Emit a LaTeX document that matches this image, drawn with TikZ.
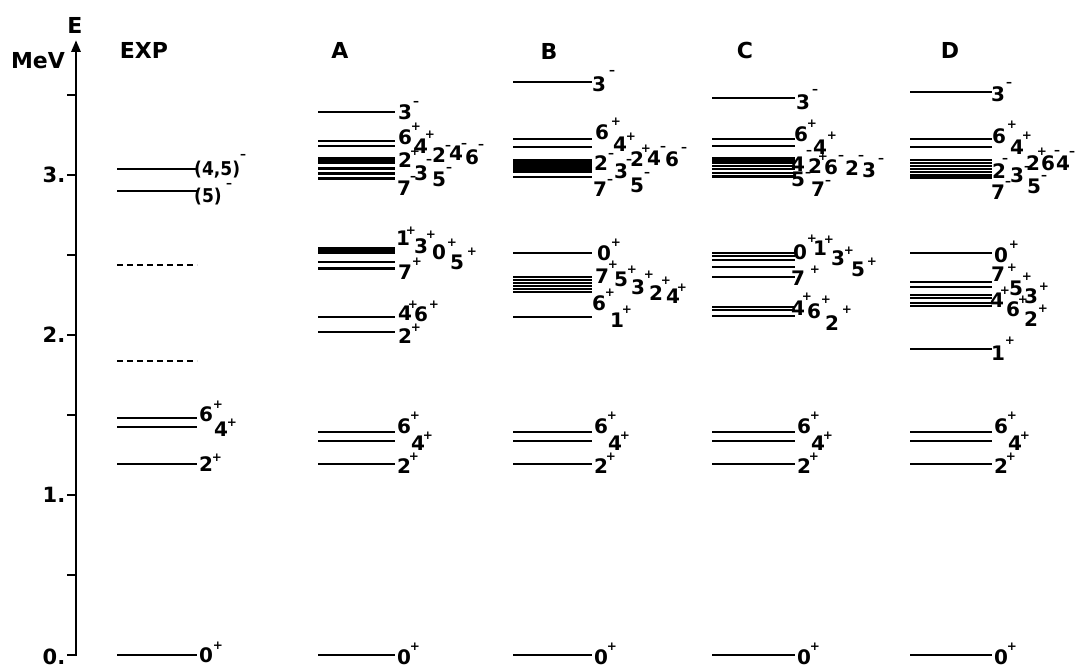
\documentclass[tikz,border=0pt]{standalone}
\usepackage{fontspec}
\setmainfont{DejaVu Sans}
\newfontfamily\condf{DejaVu Sans Condensed}
\usetikzlibrary{arrows.meta}
\newcommand\jlab[7]{\node[dig] (#1) at (#2,#3) {#4}; \node[sgn] (#1s) at (#5,#6) {#7};}
\begin{document}
\begin{tikzpicture}[x=1pt,y=-1pt,
  lev/.style={line width=2.9pt},
  dlev/.style={line width=2.9pt, dash pattern=on 6pt off 4pt},
  dig/.style={font=\fontsize{20}{20}\selectfont\bfseries, inner sep=0pt},
  pdig/.style={font=\condf\fontsize{19}{19}\selectfont\bfseries, inner sep=0pt, anchor=west},
  sgn/.style={font=\fontsize{12}{12}\selectfont\bfseries, inner sep=0pt},
  head/.style={font=\fontsize{22}{22}\selectfont\bfseries, inner sep=0pt},
  tick/.style={font=\fontsize{21}{21}\selectfont\bfseries, inner sep=0pt},
  axis/.style={line width=2.9pt}]
\useasboundingbox (0,0) rectangle (1077,668);
% axis
\coordinate (ax0) at (76,656);
\coordinate (axtop) at (76,40);
\draw[axis,-{Triangle[length=12pt,width=9pt]}] (ax0) -- (axtop);
\foreach \yy in {655,575,495,415,335,255,175,95} \draw[axis] (67,\yy) -- (76,\yy);
\node[head] (E) at (75,25) {E};
\node[head] (mev) at (38,61) {MeV};
\node[tick] (t3) at (54,175) {3.};
\node[tick] (t2) at (54,335) {2.};
\node[tick] (t1) at (54,495) {1.};
\node[tick] (t0) at (54,657) {0.};
% headings
\node[head] (hexp) at (144,50) {EXP};
\node[head] (ha) at (340,50) {A};
\node[head] (hb) at (549,51) {B};
\node[head] (hc) at (745,50) {C};
\node[head] (hd) at (950,50) {D};
% EXP levels
\foreach \y in {169,191,418,427,464,655} \draw[lev] (117,\y) -- (197,\y);
\foreach \y in {265,361} \draw[dlev] (117,\y) -- (197,\y);
\node[pdig] (e45) at (194,170) {(4,5)}; \node[sgn] (e45s) at (243,156) {–};
\node[pdig] (e5) at (194,197) {(5)}; \node[sgn] (e5s) at (229,185) {–};
\jlab{e6}{206}{414}{6}{218}{405}{+}
\jlab{e4}{221}{429}{4}{232}{423}{+}
\jlab{e2}{206}{464}{2}{217}{458}{+}
\jlab{e0}{206}{655}{0}{218}{646}{+}
% A levels
\foreach \y in {112,141,146,158,160.5,163,168.5,173.5,178.5,248,250.5,253,262,268.5,317,332,432,441,464,655}
  \draw[lev] (318,\y) -- (395,\y);
\jlab{a3m}{405}{112}{3}{416}{103}{–}
\jlab{a6p}{405}{137}{6}{416}{127}{+}
\jlab{a4p}{421}{146}{4}{430}{135}{+}
\jlab{a2p}{405}{160}{2}{415}{152}{+}
\jlab{a3n}{421}{173}{3}{429}{161}{–}
\jlab{a2m}{439}{155}{2}{448}{147}{–}
\jlab{a4m}{456}{153}{4}{464}{145}{–}
\jlab{a6m}{472}{157}{6}{481}{146}{–}
\jlab{a5m}{439}{179}{5}{449}{169}{–}
\jlab{a7m}{404}{188}{7}{413}{178}{–}
\jlab{a1p}{403}{238}{1}{411}{231}{+}
\jlab{a3p}{421}{246}{3}{431}{235}{+}
\jlab{a0p}{439}{252}{0}{452}{243}{+}
\jlab{a5p}{457}{262}{5}{472}{252}{+}
\jlab{a7p}{405}{272}{7}{417}{262}{+}
\jlab{a4q}{405}{313}{4}{413}{305}{+}
\jlab{a6q}{421}{314}{6}{434}{305}{+}
\jlab{a2q}{405}{336}{2}{416}{328}{+}
\jlab{a6l}{404}{426}{6}{415}{416}{+}
\jlab{a4l}{418}{443}{4}{428}{436}{+}
\jlab{a2l}{404}{466}{2}{414}{457}{+}
\jlab{a0l}{404}{657}{0}{415}{647}{+}
% B levels
\foreach \y in {82,139,147,160,162.5,165,167.5,170,172,177,253,277,280,283,286,289,292,317,432,441,464,655}
  \draw[lev] (513,\y) -- (592,\y);
\jlab{b3m}{599}{84}{3}{612}{72}{–}
\jlab{b6p}{602}{132}{6}{616}{122}{+}
\jlab{b4p}{620}{144}{4}{631}{137}{+}
\jlab{b2m}{601}{163}{2}{611}{155}{–}
\jlab{b3n}{621}{171}{3}{629}{161}{–}
\jlab{b2p}{637}{159}{2}{646}{149}{+}
\jlab{b4m}{654}{158}{4}{663}{148}{–}
\jlab{b6m}{672}{159}{6}{684}{149}{–}
\jlab{b5m}{637}{185}{5}{647}{174}{–}
\jlab{b7m}{600}{189}{7}{610}{181}{–}
\jlab{b0p}{604}{253}{0}{616}{243}{+}
\jlab{b7p}{602}{276}{7}{613}{265}{+}
\jlab{b5p}{621}{279}{5}{632}{270}{+}
\jlab{b3p}{638}{287}{3}{649}{275}{+}
\jlab{b2q}{656}{293}{2}{666}{281}{+}
\jlab{b4q}{673}{296}{4}{682}{288}{+}
\jlab{b6q}{599}{303}{6}{610}{293}{+}
\jlab{b1p}{617}{320}{1}{627}{310}{+}
\jlab{b6l}{601}{426}{6}{612}{416}{+}
\jlab{b4l}{615}{443}{4}{625}{436}{+}
\jlab{b2l}{601}{466}{2}{611}{457}{+}
\jlab{b0l}{601}{657}{0}{612}{647}{+}
% C levels
\foreach \y in {98,139,146,158,160.5,163,166,169,173,176.5,253,256,260,267,277,307,310,316,432,441,464,655}
  \draw[lev] (712,\y) -- (795,\y);
\jlab{c3m}{803}{102}{3}{815}{91}{–}
\jlab{c6p}{801}{134}{6}{812}{124}{+}
\jlab{c4p}{820}{147}{4}{832}{136}{+}
\jlab{c4m}{798}{164}{4}{809}{152}{–}
\jlab{c2p}{815}{166}{2}{823}{157}{+}
\jlab{c6m}{831}{167}{6}{841}{157}{–}
\jlab{c2m}{852}{168}{2}{861}{157}{–}
\jlab{c3n}{869}{170}{3}{881}{160}{–}
\jlab{c5m}{798}{179}{5}{808}{174}{–}
\jlab{c7m}{818}{189}{7}{828}{182}{–}
\jlab{c0p}{800}{252}{0}{812}{239}{+}
\jlab{c1p}{820}{248}{1}{829}{240}{+}
\jlab{c3p}{838}{258}{3}{849}{251}{+}
\jlab{c5p}{858}{269}{5}{872}{262}{+}
\jlab{c7p}{798}{278}{7}{815}{270}{+}
\jlab{c4q}{798}{308}{4}{807}{297}{+}
\jlab{c6q}{814}{311}{6}{826}{300}{+}
\jlab{c2q}{832}{323}{2}{847}{310}{+}
\jlab{c6l}{804}{426}{6}{815}{416}{+}
\jlab{c4l}{818}{443}{4}{828}{436}{+}
\jlab{c2l}{804}{466}{2}{814}{457}{+}
\jlab{c0l}{804}{657}{0}{815}{647}{+}
% D levels
\foreach \y in {92,139,147,160,163,166,169,172,175,177.5,253,282,287,295,298,303,306,349,432,441,464,655}
  \draw[lev] (910,\y) -- (992,\y);
\jlab{d3m}{998}{94}{3}{1009}{84}{–}
\jlab{d6p}{999}{136}{6}{1012}{125}{+}
\jlab{d4p}{1017}{147}{4}{1027}{136}{+}
\jlab{d2m}{999}{171}{2}{1005}{160}{–}
\jlab{d3n}{1017}{175}{3}{1027}{168}{–}
\jlab{d2p}{1033}{163}{2}{1042}{152}{+}
\jlab{d6m}{1048}{163}{6}{1057}{152}{–}
\jlab{d4m}{1063}{163}{4}{1072}{153}{–}
\jlab{d5m}{1034}{186}{5}{1044}{177}{–}
\jlab{d7m}{998}{192}{7}{1008}{183}{–}
\jlab{d0p}{1001}{255}{0}{1014}{245}{+}
\jlab{d7p}{998}{274}{7}{1012}{268}{+}
\jlab{d5p}{1016}{288}{5}{1027}{277}{+}
\jlab{d3p}{1031}{296}{3}{1044}{287}{+}
\jlab{d4q}{997}{300}{4}{1005}{291}{+}
\jlab{d6q}{1013}{309}{6}{1023}{300}{+}
\jlab{d2q}{1031}{319}{2}{1043}{309}{+}
\jlab{d1p}{998}{353}{1}{1010}{341}{+}
\jlab{d6l}{1001}{426}{6}{1012}{416}{+}
\jlab{d4l}{1015}{443}{4}{1025}{436}{+}
\jlab{d2l}{1001}{466}{2}{1011}{457}{+}
\jlab{d0l}{1001}{657}{0}{1012}{647}{+}
\end{tikzpicture}
\end{document}
